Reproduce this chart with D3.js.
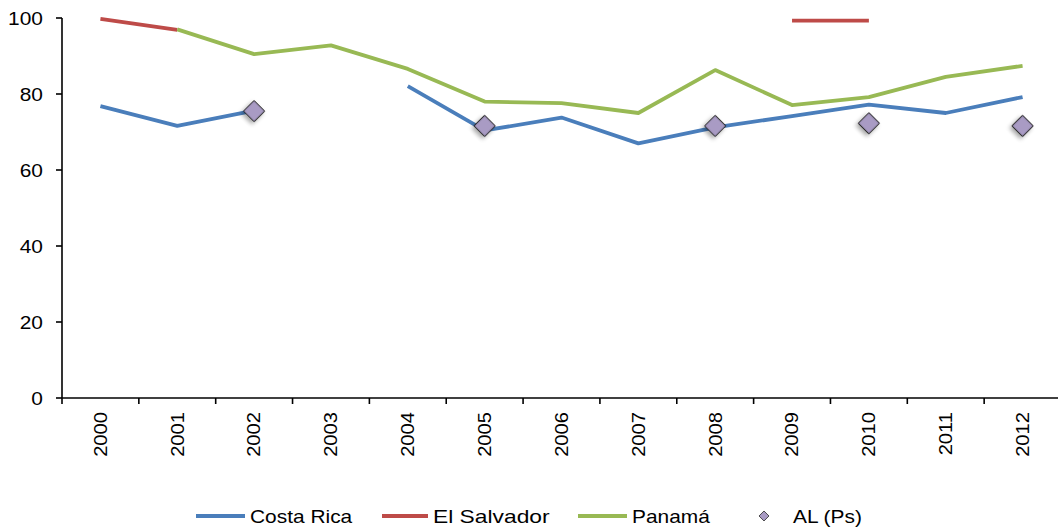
<!DOCTYPE html>
<html>
<head>
<meta charset="utf-8">
<script src="https://cdn.jsdelivr.net/npm/d3@7"></script>
<style>
  body { margin: 0; background: #fff; }
  text { font-family: "Liberation Sans", Arial, sans-serif; fill: #000; }
</style>
</head>
<body>
<div class="chart"></div>
<script>
// chart data
var years = ["2000", "2001", "2002", "2003", "2004", "2005", "2006",
  "2007", "2008", "2009", "2010", "2011", "2012"];
var costaRica = [76.8, 71.6, 75.6, null, 82.1, 70.4, 73.8, 67.0, 71.2, 74.2, 77.2, 75.0, 79.2];
var elSalvador = [99.8, 96.9, null, null, null, null, null, null, null, 99.3, 99.3, null, null];
var panama = [null, 97.0, 90.5, 92.8, 86.6, 78.0, 77.6, 75.0, 86.3, 77.1, 79.2, 84.5, 87.4];
var alPs = [null, null, 75.5, null, null, 71.6, null, null, 71.6, null, 72.3, null, 71.6];
var yTicks = [0, 20, 40, 60, 80, 100];

var svgWidth = 1058;
var svgHeight = 527;

var margin = { top: 18, left: 62 };
var plotHeight = 380;
var bandRight = 1061;

var svg = d3.select(".chart")
  .append("svg")
  .attr("width", svgWidth)
  .attr("height", svgHeight);

// the original text is a bit wider than plain Arial
function stretch(sel, k) {
  sel.each(function() {
    var w = this.getComputedTextLength();
    d3.select(this)
      .attr("textLength", w * k)
      .attr("lengthAdjust", "spacingAndGlyphs");
  });
}

var defs = svg.append("defs");
var shadow = defs.append("filter")
  .attr("id", "shadow")
  .attr("x", "-50%").attr("y", "-50%")
  .attr("width", "200%").attr("height", "200%");
shadow.append("feDropShadow")
  .attr("dx", 0).attr("dy", 3)
  .attr("stdDeviation", 2)
  .attr("flood-color", "#000")
  .attr("flood-opacity", 0.35);

var xScale = d3.scaleBand()
  .domain(years)
  .range([margin.left, bandRight])
  .paddingInner(0)
  .paddingOuter(0);

var yScale = d3.scaleLinear()
  .domain([0, 100])
  .range([margin.top + plotHeight, margin.top]);

var xCenter = d => xScale(d) + xScale.bandwidth() / 2;

// y axis
var yAxis = svg.append("g");
yAxis.append("line")
  .attr("x1", margin.left).attr("x2", margin.left)
  .attr("y1", yScale(0)).attr("y2", yScale(100))
  .attr("stroke", "#000").attr("stroke-width", 1.6);
yAxis.selectAll("line.tick")
  .data(yTicks)
  .enter()
  .append("line")
  .attr("class", "tick")
  .attr("x1", margin.left - 6).attr("x2", margin.left)
  .attr("y1", d => yScale(d)).attr("y2", d => yScale(d))
  .attr("stroke", "#000").attr("stroke-width", 1.6);
yAxis.selectAll("text")
  .data(yTicks)
  .enter()
  .append("text")
  .attr("x", 43)
  .attr("y", d => yScale(d))
  .attr("dy", "0.35em")
  .attr("text-anchor", "end")
  .style("font-size", "19px")
  .text(d => d)
  .call(stretch, 1.1);

// x axis
var xAxis = svg.append("g");
xAxis.append("line")
  .attr("x1", margin.left).attr("x2", bandRight)
  .attr("y1", yScale(0)).attr("y2", yScale(0))
  .attr("stroke", "#000").attr("stroke-width", 1.6);
xAxis.selectAll("line.tick")
  .data(years)
  .enter()
  .append("line")
  .attr("class", "tick")
  .attr("x1", d => xScale(d)).attr("x2", d => xScale(d))
  .attr("y1", yScale(0)).attr("y2", yScale(0) + 6)
  .attr("stroke", "#000").attr("stroke-width", 1.6);
xAxis.selectAll("text")
  .data(years)
  .enter()
  .append("text")
  .attr("transform", d => `translate(${xCenter(d)}, 412) rotate(-90)`)
  .attr("dy", "0.35em")
  .attr("text-anchor", "end")
  .style("font-size", "18px")
  .text(d => d)
  .call(stretch, 1.12);

// lines
var series = [
  { name: "Costa Rica", values: costaRica, color: "#4A7EBB" },
  { name: "El Salvador", values: elSalvador, color: "#BE4B48" },
  { name: "Panamá", values: panama, color: "#98B954" }
];

var line = d3.line()
  .defined(d => d.v != null)
  .x(d => xCenter(d.year))
  .y(d => yScale(d.v));

series.forEach(function(s) {
  var pts = years.map((y, i) => ({ year: y, v: s.values[i] }));
  svg.append("path")
    .datum(pts)
    .attr("d", line)
    .attr("fill", "none")
    .attr("stroke", s.color)
    .attr("stroke-width", 3.8)
    .attr("stroke-linejoin", "round");
});

// AL (Ps) diamonds
var diamond = d3.symbol().type(d3.symbolSquare).size(220);
var alPts = years.map((y, i) => ({ year: y, v: alPs[i] })).filter(d => d.v != null);
svg.selectAll("path.al")
  .data(alPts)
  .enter()
  .append("path")
  .attr("class", "al")
  .attr("d", diamond)
  .attr("transform", d => `translate(${xCenter(d.year)}, ${yScale(d.v)}) rotate(45)`)
  .attr("fill", "#A99BC4")
  .attr("stroke", "#222")
  .attr("stroke-width", 1)
  .attr("filter", "url(#shadow)");

// legend
var legend = svg.append("g");
var legendItems = [
  { name: "Costa Rica", color: "#4A7EBB", x1: 196, x2: 245, tx: 250, k: 1.1 },
  { name: "El Salvador", color: "#BE4B48", x1: 382, x2: 428, tx: 433, k: 1.2 },
  { name: "Panamá", color: "#98B954", x1: 578, x2: 627, tx: 632, k: 1.1 }
];
legendItems.forEach(function(item) {
  legend.append("line")
    .attr("x1", item.x1).attr("x2", item.x2)
    .attr("y1", 516).attr("y2", 516)
    .attr("stroke", item.color)
    .attr("stroke-width", 4);
  legend.append("text")
    .attr("x", item.tx)
    .attr("y", 516)
    .attr("dy", "0.35em")
    .style("font-size", "19px")
    .text(item.name)
    .call(stretch, item.k);
});
legend.append("path")
  .attr("d", d3.symbol().type(d3.symbolSquare).size(50))
  .attr("transform", "translate(764, 516) rotate(45)")
  .attr("fill", "#A99BC4")
  .attr("stroke", "#333")
  .attr("stroke-width", 0.8);
legend.append("text")
  .attr("x", 793)
  .attr("y", 516)
  .attr("dy", "0.35em")
  .style("font-size", "19px")
  .text("AL (Ps)")
  .call(stretch, 1.1);
</script>
</body>
</html>
